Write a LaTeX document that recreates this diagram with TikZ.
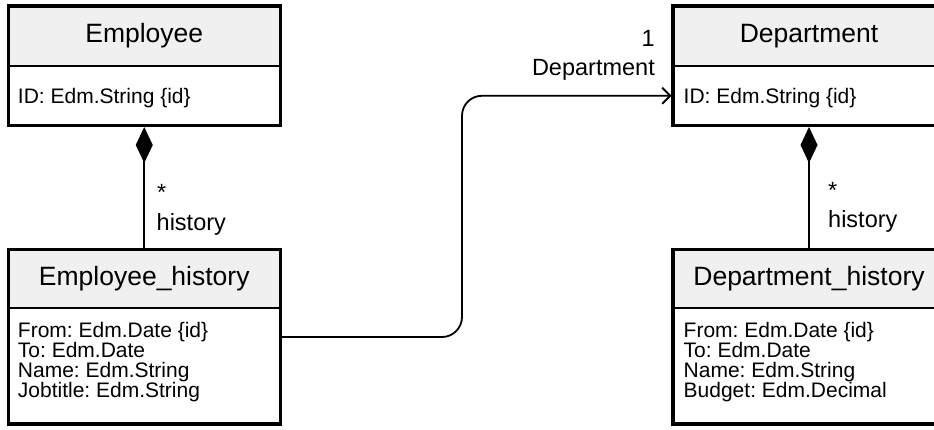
\documentclass[tikz,border=0pt]{standalone}
\usepackage{fontspec}
\setmainfont{Liberation Sans}
\frenchspacing
\usetikzlibrary{arrows.meta,calc}
\definecolor{hdrgray}{HTML}{F0F0F0}
\tikzset{
  hdr/.style={fill=hdrgray, minimum width=272pt, inner sep=0pt, outer sep=0pt,
    font=\fontsize{26.5}{30}\selectfont},
  bodybox/.style={minimum width=272pt, inner sep=0pt, outer sep=0pt},
  frame/.style={line width=3.5pt},
  sepline/.style={line width=1.5pt},
  attr/.style={anchor=base west, inner sep=0pt, font=\fontsize{21}{24}\selectfont},
  lbl/.style={inner sep=0pt, font=\fontsize{23.5}{26}\selectfont},
  conn/.style={line width=1.8pt},
}
\begin{document}
\begin{tikzpicture}[x=1pt,y=-1pt]
\path[use as bounding box] (0,0) rectangle (934,429);
\clip (0,0) rectangle (934,429);
\fill[white] (0,0) rectangle (934,429);

% Employee
\node[hdr, minimum height=60pt] (emp) at (144.25,36) {Employee};
\node[bodybox, minimum height=59.5pt] (empb) at (144.25,95.75) {};
\draw[sepline] (emp.south west) -- (emp.south east);
\draw[frame] (emp.north west) rectangle (empb.south east);
\node[attr] (empa1) at ($(empb.north west)+(9.5,37)$) {ID: Edm.String \{id\}};

% Employee_history
\node[hdr, minimum height=58.5pt] (eh) at (144.25,278.75) {Employee\_history};
\node[bodybox, minimum height=116pt] (ehb) at (144.25,366) {};
\draw[sepline] (eh.south west) -- (eh.south east);
\draw[frame] (eh.north west) rectangle (ehb.south east);
\node[attr] (eha1) at ($(ehb.north west)+(9.5,29)$) {From: Edm.Date \{id\}};
\node[attr] (eha2) at ($(ehb.north west)+(9.5,49)$) {To: Edm.Date};
\node[attr] (eha3) at ($(ehb.north west)+(9.5,69)$) {Name: Edm.String};
\node[attr] (eha4) at ($(ehb.north west)+(9.5,89)$) {Jobtitle: Edm.String};

% Department
\node[hdr, minimum height=60pt] (dep) at (809,36) {Department};
\node[bodybox, minimum height=59.5pt] (depb) at (809,95.75) {};
\draw[sepline] (dep.south west) -- (dep.south east);
\draw[frame] (dep.north west) rectangle (depb.south east);
\node[attr] (depa1) at ($(depb.north west)+(10.5,37)$) {ID: Edm.String \{id\}};

% Department_history
\node[hdr, minimum height=58.5pt] (dh) at (809,278.75) {Department\_history};
\node[bodybox, minimum height=116pt] (dhb) at (809,366) {};
\draw[sepline] (dh.south west) -- (dh.south east);
\draw[frame] (dh.north west) rectangle (dhb.south east);
\node[attr] (dha1) at ($(dhb.north west)+(10.5,29)$) {From: Edm.Date \{id\}};
\node[attr] (dha2) at ($(dhb.north west)+(10.5,49)$) {To: Edm.Date};
\node[attr] (dha3) at ($(dhb.north west)+(10.5,69)$) {Name: Edm.String};
\node[attr] (dha4) at ($(dhb.north west)+(10.5,89)$) {Budget: Edm.Decimal};

% compositions
\draw[conn, {Diamond[length=36pt,width=17pt]}-] ($(empb.south)+(0,1.5)$) -- (eh.north);
\draw[conn, {Diamond[length=36pt,width=17pt]}-] ($(depb.south)+(0,1.5)$) -- (dh.north);
\node[lbl, anchor=west] (empstar) at (157,192) {*};
\node[lbl, anchor=base west] (emphist) at (156.5,230) {history};
\node[lbl, anchor=west] (depstar) at (828,190) {*};
\node[lbl, anchor=base west] (dephist) at (828,227) {history};

% association
\coordinate (start) at ($(ehb.north east)+(0,29)$);
\coordinate (bend) at (462,0);
\draw[conn, rounded corners=20pt, -{Straight Barb[length=8pt,width=16pt]}]
  (start) -- (start -| bend) -- (bend |- depb.west) -- ($(depb.west)+(-1.5,0)$);
\node[lbl, anchor=base east] (one) at (655,46.7) {1};
\node[lbl, anchor=base east] (deprole) at (655,75) {Department};
\end{tikzpicture}
\end{document}
